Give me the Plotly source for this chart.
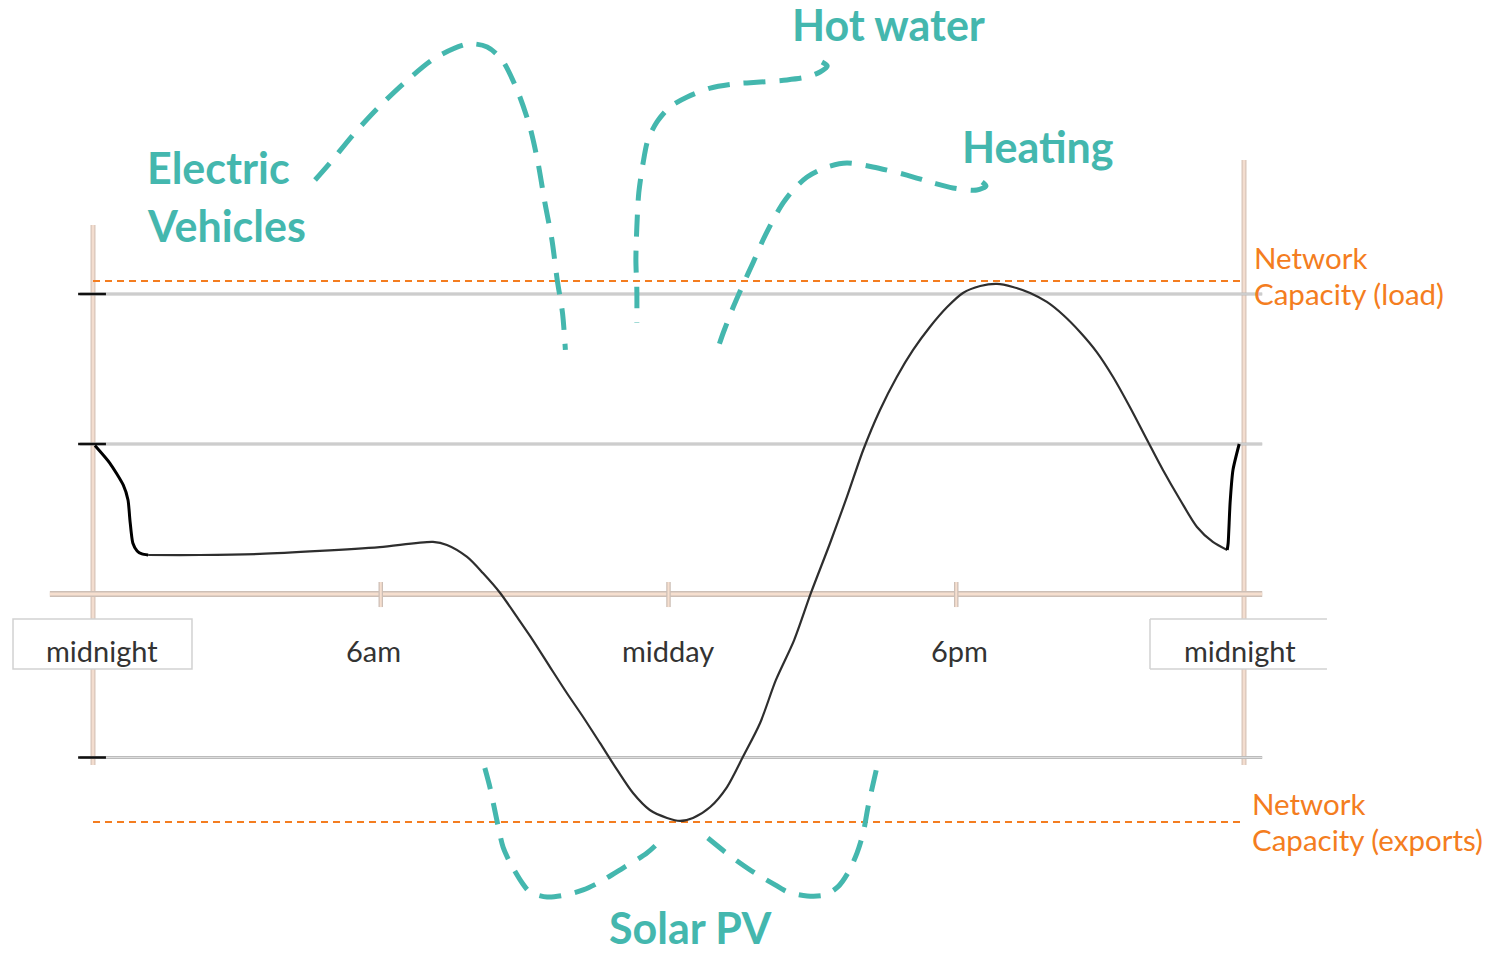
import plotly.graph_objects as go

# ---------------- data (hours of day, load in relative units) ----------------
tick_hours = [0, 6, 12, 18, 24]
tick_labels = ["midnight", "6am", "midday", "6pm", "midnight"]

grid_levels = [2.0, 1.0, -1.09]
capacity_load = 2.087
capacity_exports = -1.52

# steep drop just after midnight (thick black)
drop_hours = [0.04, 0.35, 0.63, 0.73, 0.77, 0.83, 0.92, 1.02, 1.15]
drop_load = [0.99, 0.873, 0.727, 0.627, 0.493, 0.34, 0.287, 0.267, 0.26]

# main daily net load profile
day_hours = [1.15, 2.23, 3.48, 4.73, 5.98, 7.09, 7.38, 7.80, 8.13, 8.49, 8.84, 9.17,
             9.53, 9.88, 10.22, 10.57, 10.93, 11.26, 11.61, 11.97, 12.24, 12.51,
             12.87, 13.22, 13.55, 13.91, 14.24, 14.62, 14.97, 15.37, 15.72, 16.06,
             16.41, 16.76, 17.10, 17.45, 17.81, 18.14, 18.50, 18.85, 19.18, 19.54,
             19.89, 20.23, 20.58, 20.93, 21.27, 21.62, 21.98, 22.31, 22.67, 23.02,
             23.35, 23.65]
day_load = [0.26, 0.26, 0.267, 0.287, 0.313, 0.347, 0.327, 0.247, 0.14, 0.007, -0.153,
            -0.307, -0.487, -0.66, -0.82, -0.993, -1.173, -1.327, -1.44, -1.493,
            -1.513, -1.493, -1.42, -1.287, -1.087, -0.86, -0.573, -0.307, 0.007,
            0.34, 0.647, 0.96, 1.227, 1.447, 1.627, 1.78, 1.913, 2.007, 2.053, 2.067,
            2.047, 2.007, 1.947, 1.86, 1.747, 1.613, 1.447, 1.247, 1.027, 0.827,
            0.627, 0.447, 0.347, 0.293]

# quick rise back just before midnight (thick black)
rise_hours = [23.65, 23.67, 23.71, 23.77, 23.90]
rise_load = [0.293, 0.34, 0.607, 0.827, 1.0]

# dashed "flexibility" arrows
ev_hours = [4.63, 4.94, 5.42, 5.94, 6.51, 7.13, 7.82, 8.22, 8.53, 8.86, 9.11, 9.28,
            9.42, 9.57, 9.68, 9.79, 9.85]
ev_load = [2.76, 2.873, 3.06, 3.24, 3.413, 3.573, 3.667, 3.647, 3.56, 3.347, 3.113,
           2.873, 2.613, 2.36, 2.093, 1.873, 1.627]

hotwater_hours = [15.20, 15.31, 15.16, 14.89, 14.47, 13.91, 13.35, 12.87, 12.39, 12.03,
                  11.76, 11.57, 11.47, 11.38, 11.34, 11.32, 11.34, 11.34]
hotwater_load = [3.547, 3.52, 3.48, 3.447, 3.427, 3.413, 3.40, 3.373, 3.313, 3.247,
                 3.147, 3.027, 2.873, 2.673, 2.447, 2.227, 2.027, 1.807]

heating_hours = [18.54, 18.62, 18.43, 17.93, 17.52, 16.97, 16.26, 15.72, 15.31, 14.89,
                 14.60, 14.39, 14.18, 13.97, 13.76, 13.55, 13.35, 13.14, 12.97]
heating_load = [2.747, 2.72, 2.693, 2.707, 2.74, 2.793, 2.847, 2.873, 2.847, 2.78,
                2.693, 2.607, 2.493, 2.36, 2.207, 2.06, 1.913, 1.74, 1.58]

solar_am_hours = [8.17, 8.28, 8.42, 8.55, 8.70, 8.95, 9.11, 9.47, 9.84, 10.22, 10.57,
                  11.05, 11.55, 11.89]
solar_am_load = [-1.16, -1.293, -1.507, -1.687, -1.793, -1.927, -1.987, -2.02, -2.007,
                 -1.973, -1.92, -1.827, -1.727, -1.627]
solar_pm_hours = [12.82, 13.18, 13.49, 13.80, 14.16, 14.49, 14.89, 15.26, 15.53, 15.74,
                  15.93, 16.06, 16.16, 16.27, 16.37]
solar_pm_load = [-1.627, -1.72, -1.793, -1.86, -1.927, -1.987, -2.013, -2.007, -1.953,
                 -1.86, -1.727, -1.593, -1.42, -1.26, -1.12]

# ---------------- styling / layout ----------------
W, H = 1486, 954
ORIGIN_X, ORIGIN_Y = 93, 594
PX_PER_HOUR = (1244 - 93) / 24
PX_PER_UNIT = 150.0

TEAL = "#44b7ae"
ORANGE = "#f47d20"
TEXT_GRAY = "#333333"


def P(x, y):
    return x / W, 1 - y / H


fig = go.Figure()

dash_style = dict(color=TEAL, width=5, dash="22px,14px", shape="spline", smoothing=0.8)
for hx, ly in [(ev_hours, ev_load), (hotwater_hours, hotwater_load),
               (heating_hours, heating_load), (solar_am_hours, solar_am_load),
               (solar_pm_hours, solar_pm_load)]:
    fig.add_trace(go.Scatter(x=hx, y=ly, mode="lines", line=dash_style,
                             hoverinfo="skip", showlegend=False))

fig.add_trace(go.Scatter(x=day_hours, y=day_load, mode="lines",
                         line=dict(color="#2e2e2e", width=2.2, shape="spline", smoothing=0.8),
                         showlegend=False))
for hx, ly in [(drop_hours, drop_load), (rise_hours, rise_load)]:
    fig.add_trace(go.Scatter(x=hx, y=ly, mode="lines",
                             line=dict(color="#000000", width=3, shape="spline", smoothing=0.6),
                             showlegend=False))

shapes = []


def hline(y, x0, x1, color, width, dash=None):
    d = dict(type="line", xref="x", yref="y", x0=x0, x1=x1, y0=y, y1=y,
             line=dict(color=color, width=width), layer="below")
    if dash:
        d["line"]["dash"] = dash
    shapes.append(d)


def vline(x, y0, y1, color, width):
    shapes.append(dict(type="line", xref="x", yref="y", x0=x, x1=x, y0=y0, y1=y1,
                       line=dict(color=color, width=width), layer="below"))


# vertical axes at both midnights
vline(0, -1.14, 2.46, "#d8c5ba", 5)
vline(0, -1.14, 2.46, "#f3ddcf", 2.5)
vline(24, -1.14, 2.893, "#d8c5ba", 5)
vline(24, -1.14, 2.893, "#f3ddcf", 2.5)

# grid / reference lines
for lv in grid_levels:
    hline(lv, -0.27, 24.38, "#bcbcbc", 3)
    hline(lv, -0.27, 24.38, "#dedede", 1)
    hline(lv, -0.31, 0.27, "#111111", 2.5)

# time axis
hline(0, -0.9, 24.38, "#cdbfb6", 6)
hline(0, -0.9, 24.38, "#f6dfcf", 3)
for th in tick_hours[1:-1]:
    vline(th, -0.087, 0.08, "#cdbfb6", 4.5)
    vline(th, -0.087, 0.08, "#f6dfcf", 2)

# label boxes for midnight
box_y0, box_y1 = -0.5, -0.167
shapes.append(dict(type="rect", xref="x", yref="y", x0=-1.668, x1=2.064, y0=box_y0, y1=box_y1,
                   fillcolor="white", line=dict(color="#d2d2d2", width=1.5), layer="below"))
shapes.append(dict(type="rect", xref="x", yref="y", x0=22.04, x1=25.73, y0=box_y0, y1=box_y1,
                   fillcolor="white", line=dict(width=0), layer="below"))
for yv in (box_y0, box_y1):
    hline(yv, 22.04, 25.73, "#d2d2d2", 1.5)
vline(22.04, box_y0, box_y1, "#d2d2d2", 1.5)

# capacity limits
hline(capacity_load, 0, 24, ORANGE, 2, dash="7px,5px")
hline(capacity_exports, 0, 24.02, ORANGE, 2, dash="7px,5px")

annotations = []


def label(text, x, y, size, color, anchor="left", bold=False, yanchor="middle"):
    px, py = P(x, y)
    annotations.append(dict(text=f"<b>{text}</b>" if bold else text, x=px, y=py,
                            xref="paper", yref="paper", xanchor=anchor, yanchor=yanchor,
                            showarrow=False, borderpad=0,
                            font=dict(family="Lato", size=size, color=color)))


# tick labels
tick_px = [102, 373, 668, 960, 1240]
for lab, xp in zip(tick_labels, tick_px):
    label(lab, xp, 650, 29, TEXT_GRAY, anchor="center")

label("Electric", 146, 168, 43, TEAL, bold=True)
label("Vehicles", 146, 225, 43, TEAL, bold=True)
label("Hot water", 791, 25, 43, TEAL, bold=True)
label("Heating", 961, 147, 43, TEAL, bold=True)
label("Solar PV", 690, 954, 43, TEAL, anchor="center", bold=True, yanchor="bottom")

label("Network", 1253, 257, 29.5, ORANGE)
label("Capacity (load)", 1253, 294, 29.5, ORANGE)
label("Network", 1251, 803, 29.5, ORANGE)
label("Capacity (exports)", 1251, 839, 29.5, ORANGE)

fig.update_layout(
    width=W, height=H,
    margin=dict(l=0, r=0, t=0, b=0),
    paper_bgcolor="white", plot_bgcolor="white",
    xaxis=dict(range=[-ORIGIN_X / PX_PER_HOUR, (W - ORIGIN_X) / PX_PER_HOUR],
               visible=False, fixedrange=True),
    yaxis=dict(range=[(ORIGIN_Y - H) / PX_PER_UNIT, ORIGIN_Y / PX_PER_UNIT],
               visible=False, fixedrange=True),
    shapes=shapes,
    annotations=annotations,
    showlegend=False,
)

fig.write_html("out.html",
               config={"displayModeBar": False},
               post_script="document.body.style.margin='0px';document.body.style.overflow='hidden';")
